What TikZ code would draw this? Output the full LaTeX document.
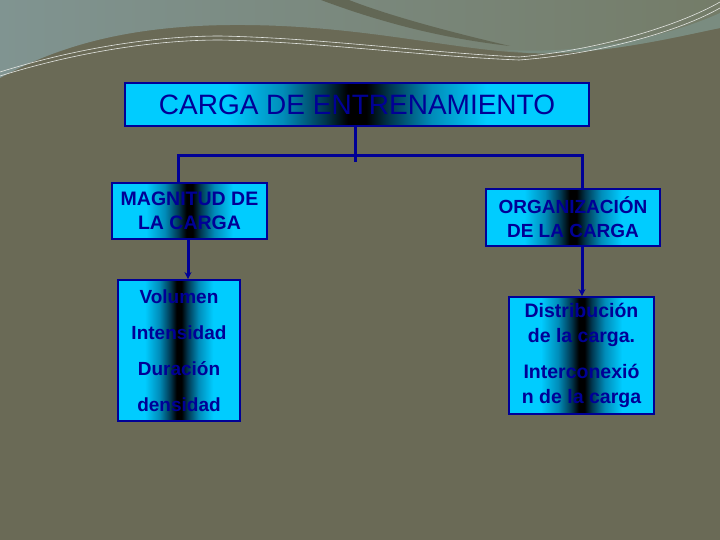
\documentclass[tikz,border=0pt]{standalone}
\usepackage{fontspec}
\setmainfont{Liberation Sans}
\usetikzlibrary{arrows.meta}

\definecolor{bgolive}{RGB}{106,106,86}
\definecolor{skyolive}{RGB}{116,124,104}
\definecolor{skyblue}{RGB}{128,148,145}
\definecolor{bandblue}{RGB}{122,140,128}
\definecolor{swoosh}{RGB}{98,103,85}
\definecolor{cyanA}{RGB}{0,204,255}
\definecolor{tealA}{RGB}{0,140,185}
\definecolor{tealB}{RGB}{0,55,80}
\definecolor{navy}{RGB}{0,0,150}

\pgfdeclarehorizontalshading{cyanbar}{100bp}{color(0bp)=(cyanA); color(25bp)=(cyanA);
  color(36bp)=(cyanA); color(42bp)=(tealA); color(46.5bp)=(tealB); color(49bp)=(black);
  color(51bp)=(black); color(53.5bp)=(tealB); color(58bp)=(tealA); color(64bp)=(cyanA);
  color(75bp)=(cyanA); color(100bp)=(cyanA)}

\begin{document}
\begin{tikzpicture}[x=1pt, y=-1pt, >={Stealth[length=7pt, width=7pt]},
    box/.style={shade, shading=cyanbar, draw=navy, line width=1.8pt, inner sep=0pt,
                align=center, text=navy},
    link/.style={draw=navy, line width=3pt, line join=miter}]

  % Background
  \useasboundingbox (0,0) rectangle (720,540);
  \fill[bgolive] (0,0) rectangle (720,540);
  \shade[left color=skyblue, right color=skyolive] (0,0) -- (720,0) -- (720,28)
    .. controls (680,36) and (600,56) .. (528,53)
    .. controls (450,50) and (360,24) .. (230,25)
    .. controls (130,26) and (60,45) .. (0,78) -- cycle;
  \fill[bandblue] (505,50) .. controls (580,54) and (660,40) .. (720,13) -- (720,28)
    .. controls (680,36) and (600,56) .. (528,53) -- cycle;
  \fill[swoosh] (321,0) .. controls (380,22) and (440,38) .. (510,46)
    .. controls (450,32) and (390,16) .. (349,0) -- cycle;
  \draw[white!80!skyolive, line width=0.6pt] (0,72) .. controls (70,50) and (150,36) .. (220,36)
    .. controls (320,38) and (420,52) .. (519,57) .. controls (600,50) and (680,25) .. (720,2);
  \draw[white!80!skyolive, line width=0.6pt] (0,76) .. controls (70,54) and (150,40) .. (220,40)
    .. controls (320,42) and (420,56) .. (519,60) .. controls (600,54) and (680,31) .. (720,8);

  % Nodes
  \node[box, minimum width=464pt, minimum height=43pt, font=\fontsize{28}{30}\selectfont]
    (carga) at (357,104.5) {CARGA DE ENTRENAMIENTO};
  \node[box, minimum width=155pt, minimum height=56pt, font=\bfseries\fontsize{19.5}{24}\selectfont]
    (magnitud) at (189.5,211) {MAGNITUD DE\\LA CARGA};
  \node[box, minimum width=174pt, minimum height=57pt, font=\bfseries\fontsize{19}{24}\selectfont]
    (organiz) at (573,217.5) {ORGANIZACIÓN\\DE LA CARGA};
  \node[box, minimum width=122pt, minimum height=141pt, font=\bfseries\fontsize{19}{36}\selectfont]
    (componentes) at (179,350.5) {Volumen\\Intensidad\\Duración\\densidad};
  \node[box, minimum width=145pt, minimum height=117pt, font=\bfseries\fontsize{19.5}{25}\selectfont]
    (distrib) at (581.5,355.5) {Distribución\\de la carga.\\[11pt]Interconexió\\n de la carga};

  % Connectors
  \coordinate (stem) at (355,162);
  \coordinate (jl) at (178,156);
  \coordinate (jr) at (582,156);
  \draw[link] (carga.south -| stem) -- (stem);
  \draw[link] (magnitud.north -| jl) -- (jl) -- (jr) -- (organiz.north -| jr);
  \draw[link, ->] (magnitud.south -| 188,0) -- (componentes.north -| 188,0);
  \draw[link, ->] (organiz.south -| jr) -- (distrib.north -| jr);

\end{tikzpicture}
\end{document}
